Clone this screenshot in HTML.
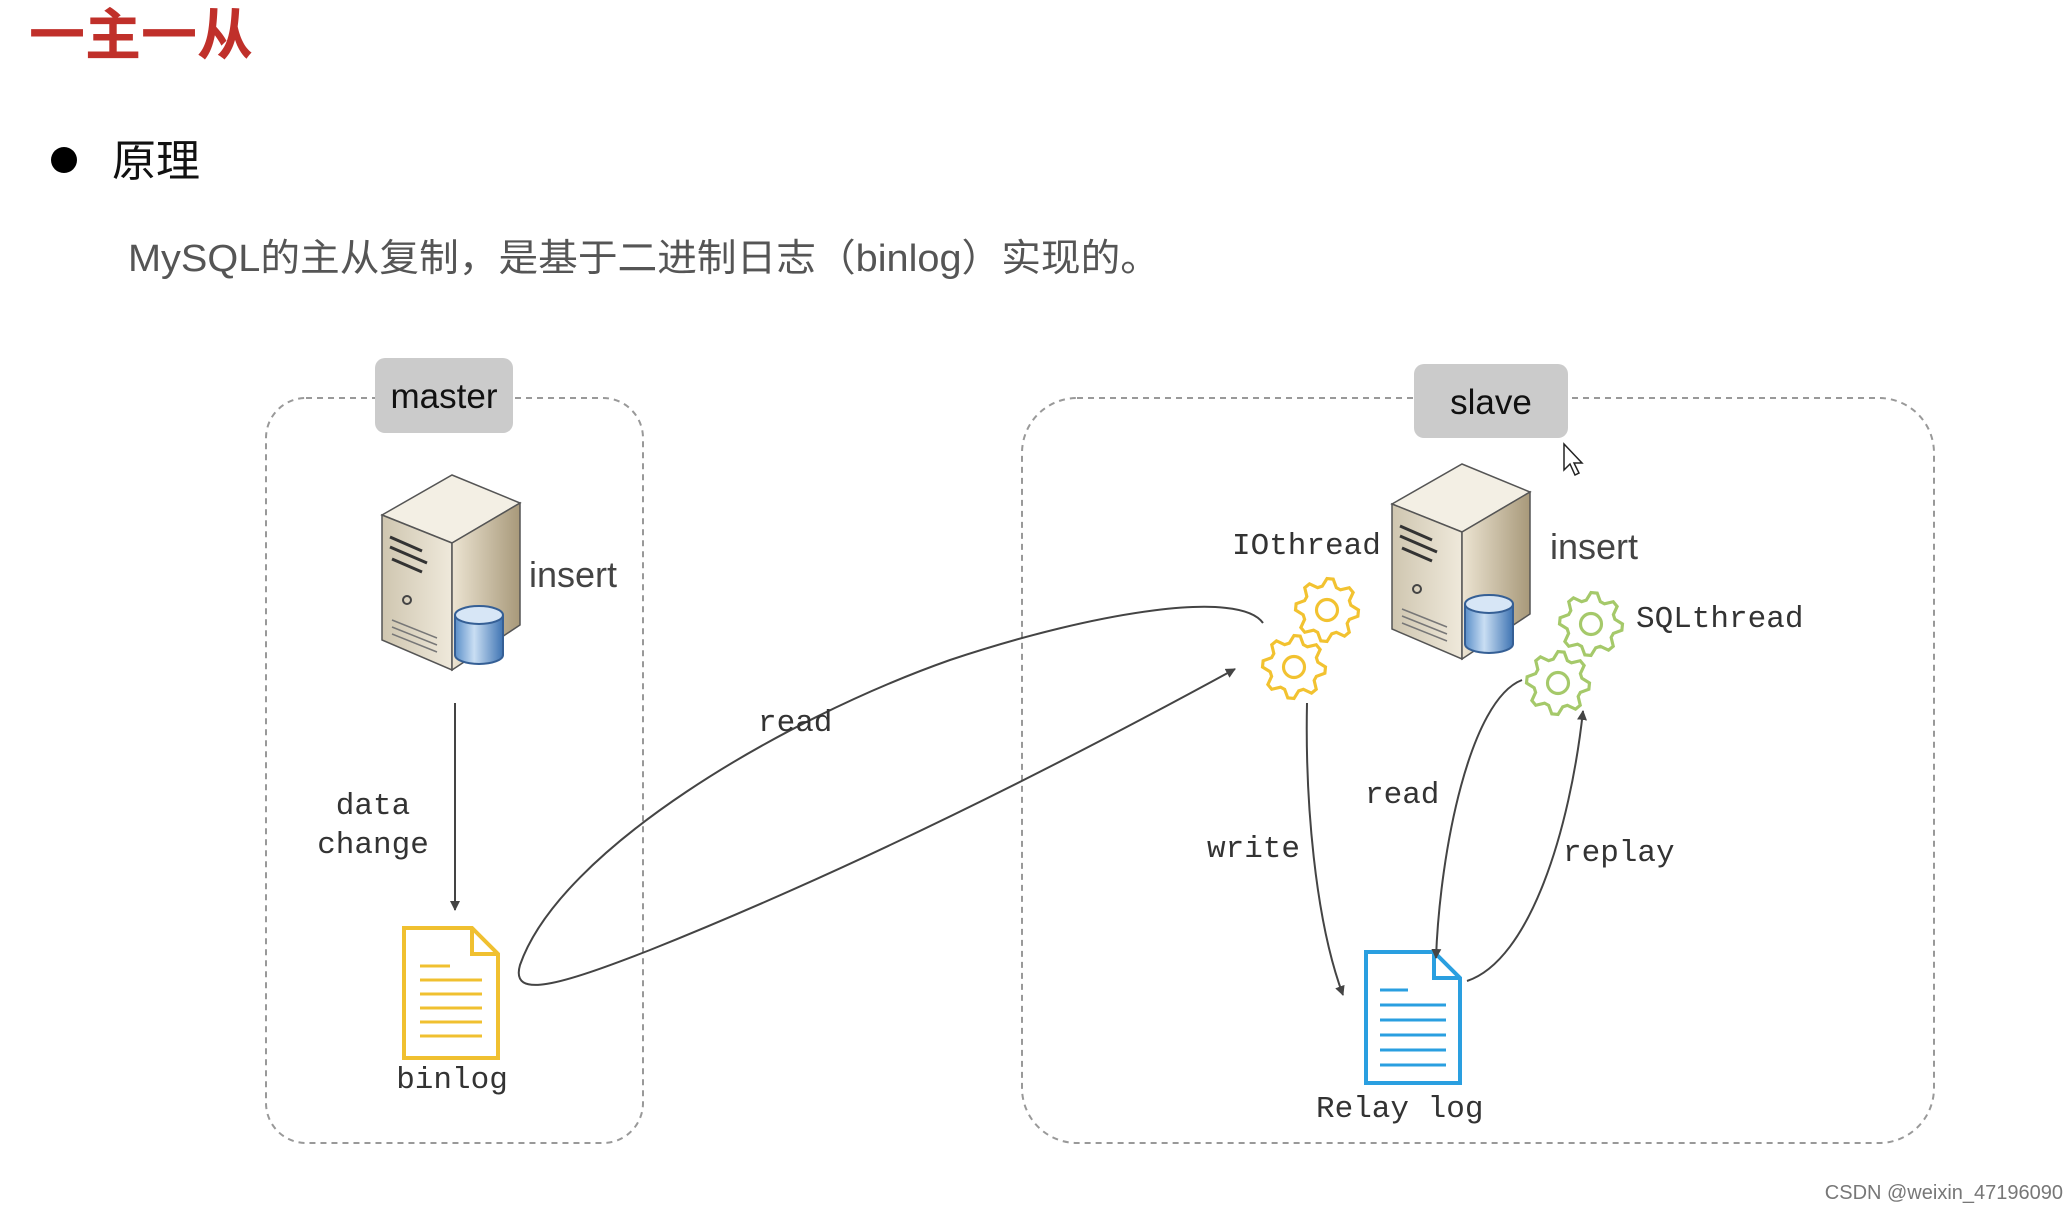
<!DOCTYPE html>
<html><head><meta charset="utf-8"><style>
html,body{margin:0;padding:0;background:#fff;}
body{width:2068px;height:1206px;overflow:hidden;position:relative;}
svg{position:absolute;left:0;top:0;}
</style></head><body>
<svg width="2068" height="1206" viewBox="0 0 2068 1206" xmlns="http://www.w3.org/2000/svg">
<defs>
  <linearGradient id="lf" x1="0" x2="1" y1="0" y2="0"><stop offset="0" stop-color="#cfc6b0"/><stop offset="1" stop-color="#efe9db"/></linearGradient>
  <linearGradient id="rf" x1="0" x2="1" y1="0" y2="0"><stop offset="0" stop-color="#ece4d2"/><stop offset="1" stop-color="#a8997a"/></linearGradient>
  <linearGradient id="cy" x1="0" x2="1"><stop offset="0" stop-color="#5b8fc9"/><stop offset=".4" stop-color="#c9def3"/><stop offset="1" stop-color="#3f74b3"/></linearGradient>
  <marker id="ar" viewBox="0 0 10 10" refX="9" refY="5" markerWidth="10" markerHeight="10" markerUnits="userSpaceOnUse" orient="auto"><path d="M0,0 L10,5 L0,10 z" fill="#444"/></marker>
  <g id="server">
    <polygon points="0,40 70,0 138,28 70,68" fill="#f3efe4" stroke="#555" stroke-width="1.5"/>
    <polygon points="0,40 70,68 70,195 0,165" fill="url(#lf)" stroke="#555" stroke-width="1.5"/>
    <polygon points="70,68 138,28 138,150 70,195" fill="url(#rf)" stroke="#555" stroke-width="1.5"/>
    <path d="M8,62 L40,76 M8,72 L45,88 M10,84 L40,97" stroke="#333" stroke-width="3" fill="none"/>
    <circle cx="25" cy="125" r="4" fill="none" stroke="#444" stroke-width="2"/>
    <path d="M10,145 L55,163 M10,152 L55,170 M10,159 L55,177" stroke="#777" stroke-width="1.5"/>
    <path d="M73,140 v40 a24,9 0 0 0 48,0 v-40" fill="url(#cy)" stroke="#355f95" stroke-width="2"/>
    <ellipse cx="97" cy="140" rx="24" ry="9" fill="#d7e6f6" stroke="#355f95" stroke-width="2"/>
  </g>
  <g id="gear">
    <polygon fill="#fff" stroke-width="3" points="30,0 29.4,5.9 21.3,8.9 19.2,12.8 21.2,21.2 16.7,24.9 8.9,21.3 4.5,22.7 0,30 -5.9,29.4 -8.9,21.3 -12.8,19.2 -21.2,21.2 -24.9,16.7 -21.3,8.9 -22.7,4.5 -30,0 -29.4,-5.9 -21.3,-8.9 -19.2,-12.8 -21.2,-21.2 -16.7,-24.9 -8.9,-21.3 -4.5,-22.7 0,-30 5.9,-29.4 8.9,-21.3 12.8,-19.2 21.2,-21.2 24.9,-16.7 21.3,-8.9 22.7,-4.5"/>
    <circle r="10" fill="none" stroke-width="3"/>
  </g>
</defs>

<!-- title -->
<text x="29" y="55" font-family="Liberation Sans,Noto Sans CJK SC,sans-serif" font-size="56" font-weight="bold" fill="#c0302a">一主一从</text>
<circle cx="64" cy="160" r="13" fill="#000"/>
<text x="112" y="176" font-family="Liberation Sans,Noto Sans CJK SC,sans-serif" font-size="44" fill="#111">原理</text>
<text x="128" y="271" font-family="Liberation Sans,Noto Sans CJK SC,sans-serif" font-size="38" fill="#555" textLength="1032" lengthAdjust="spacingAndGlyphs">MySQL的主从复制，是基于二进制日志（binlog）实现的。</text>

<!-- boxes -->
<rect x="266" y="398" width="377" height="745" rx="40" fill="none" stroke="#999" stroke-width="2" stroke-dasharray="6,5"/>
<rect x="1022" y="398" width="912" height="745" rx="55" fill="none" stroke="#999" stroke-width="2" stroke-dasharray="6,5"/>
<rect x="375" y="358" width="138" height="75" rx="10" fill="#cbcbcb"/>
<text x="444" y="408" text-anchor="middle" font-family="Liberation Sans,sans-serif" font-size="35" fill="#111">master</text>
<rect x="1414" y="364" width="154" height="74" rx="10" fill="#cbcbcb"/>
<text x="1491" y="414" text-anchor="middle" font-family="Liberation Sans,sans-serif" font-size="35" fill="#111">slave</text>
<path d="M1564,444 l0,26 l6,-6 l5,11 l4,-2 l-5,-10 l8,0 z" fill="#fff" stroke="#222" stroke-width="1.5"/>

<!-- servers -->
<use href="#server" x="382" y="475"/>
<use href="#server" x="1392" y="464"/>
<g font-family="Liberation Sans,sans-serif" font-size="36" fill="#444">
<text x="529" y="587">insert</text>
<text x="1550" y="559">insert</text>
</g>

<!-- binlog doc -->
<path d="M404,928 h68 l26,26 v104 h-94 z M472,928 v26 h26" fill="#fff" stroke="#f0c030" stroke-width="4"/>
<path d="M420,980 h62 M420,994 h62 M420,1008 h62 M420,1022 h62 M420,1036 h62 M420,966 h30" stroke="#f0c030" stroke-width="3"/>
<!-- relay doc -->
<path d="M1366,952 h68 l26,26 v105 h-94 z M1434,952 v26 h26" fill="#fff" stroke="#2a9fe0" stroke-width="4"/>
<path d="M1380,1005 h66 M1380,1020 h66 M1380,1035 h66 M1380,1050 h66 M1380,1065 h66 M1380,990 h28" stroke="#2a9fe0" stroke-width="3"/>

<!-- gears -->
<use href="#gear" transform="translate(1327,610) scale(1.05)" stroke="#f2c230"/>
<use href="#gear" transform="translate(1294,667) scale(1.05)" stroke="#f2c230"/>
<use href="#gear" transform="translate(1591,624) scale(1.05)" stroke="#a5c96a"/>
<use href="#gear" transform="translate(1558,683) scale(1.05)" stroke="#a5c96a"/>

<!-- connectors -->
<g fill="none" stroke="#444" stroke-width="2">
<line x1="455" y1="703" x2="455" y2="910" marker-end="url(#ar)"/>
<path d="M1263,623 C1240,590 1100,610 950,660 C780,720 560,850 520,965 C510,1000 560,985 650,950 C850,870 1050,770 1235,669" marker-end="url(#ar)"/>
<path d="M1307,703 C1305,800 1315,920 1343,995" marker-end="url(#ar)"/>
<path d="M1522,680 C1470,700 1440,850 1436,958" marker-end="url(#ar)"/>
<path d="M1467,981 C1530,960 1570,830 1583,711" marker-end="url(#ar)"/>
</g>

<!-- labels -->
<g font-family="Liberation Mono,monospace" font-size="31" fill="#333">
<text x="373" y="814" text-anchor="middle">data</text>
<text x="373" y="853" text-anchor="middle">change</text>
<text x="452" y="1088" text-anchor="middle">binlog</text>
<text x="758" y="731">read</text>
<text x="1232" y="554">IOthread</text>
<text x="1636" y="627">SQLthread</text>
<text x="1207" y="857">write</text>
<text x="1365" y="803">read</text>
<text x="1563" y="861">replay</text>
<text x="1316" y="1117">Relay log</text>
</g>
<text x="2063" y="1199" text-anchor="end" font-family="Liberation Sans,sans-serif" font-size="20" fill="#777">CSDN @weixin_47196090</text>
</svg>
</body></html>
